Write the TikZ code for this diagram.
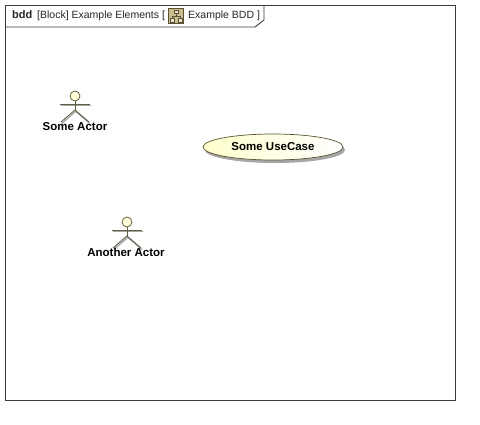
\documentclass[tikz,border=0pt]{standalone}
\usepackage{fontspec}
\setmainfont{Liberation Sans}
\usetikzlibrary{positioning,calc,shapes.geometric,shadows}
\definecolor{mdline}{HTML}{3C3C3C}
\definecolor{mdactor}{HTML}{5F5F45}
\definecolor{mdfill}{HTML}{FFFFCC}
\definecolor{mdicon}{HTML}{C9BC8E}
\definecolor{mdicond}{HTML}{5A5230}

\begin{document}
\begin{tikzpicture}[
  x=1pt, y=-1pt,
  frame/.style={draw=mdline, line width=0.9pt},
  tabtxt/.style={font=\fontsize{10.5}{12}\selectfont, text=black!85, inner sep=0pt, anchor=base west},
  lbl/.style={font=\fontsize{11.5}{13}\selectfont\bfseries, text=black, inner sep=0pt},
  limb/.style={draw=mdactor, line width=0.9pt},
  limbsh/.style={draw=black!35, line width=1.3pt, transform canvas={xshift=0.8pt, yshift=-1.4pt}},
  head/.style={circle, draw=mdicond, line width=0.7pt, fill=mdfill!70!white, minimum size=10pt, inner sep=0pt},
  usecase/.style={ellipse, draw=mdicond, line width=0.7pt, left color=mdfill, right color=white,
                  minimum width=140pt, minimum height=26pt, inner sep=0pt,
                  drop shadow={shadow xshift=2pt, shadow yshift=-3pt, fill=black, opacity=0.35}},
  iconbit/.style={draw=mdicond, line width=0.6pt, fill=mdicon!40!white, inner sep=0pt, minimum width=4pt, minimum height=3.5pt},
]
\useasboundingbox[fill=white] (0,0) rectangle (480,424);

%% ---- Marco del diagrama ----
\draw[frame] (5,5) rectangle (455,400);
\draw[frame] (5,27) -- (255,27) -- (264,20) -- (264,5);

%% ---- Cabecera ----
\node[tabtxt, font=\fontsize{11}{12}\selectfont\bfseries] (kind) at (12,18) {bdd};
\node[tabtxt] (title) at (37,18) {[Block] Example Elements [};
\node[tabtxt] (diag) at (188,18) {Example BDD ]};

%% Icono
\node[draw=mdicond, line width=0.6pt, fill=mdicon, minimum size=15pt, inner sep=0pt] (icon) at (176,16) {};
\node[iconbit] (ictop) at (176,12) {};
\node[iconbit] (icl) at (172,20.5) {};
\node[iconbit] (icr) at (180,20.5) {};
\draw[mdicond, line width=0.6pt] (ictop.south) -- ++(0,2.5) -| (icl.north);
\draw[mdicond, line width=0.6pt] (ictop.south) -- ++(0,2.5) -| (icr.north);

%% ---- Primer actor ----
\coordinate (hip1) at (75,110);
\coordinate (neck1) at (75,101);
\coordinate (armL1) at (60,104);
\coordinate (armR1) at (90,104);
\coordinate (legL1) at (61,122);
\coordinate (legR1) at (89,122);
\draw[limbsh] (armL1) -- (armR1);
\draw[limbsh] (legL1) -- (hip1) -- (legR1);
\draw[limb] (neck1) -- (hip1);
\draw[limb] (armL1) -- (armR1);
\draw[limb] (legL1) -- (hip1) -- (legR1);
\node[head] (head1) at (75,96) {};
\node[lbl] (actor1) at (75,126.5) {Some Actor};

%% ---- Segundo actor ----
\coordinate (hip2) at (127,236);
\coordinate (neck2) at (127,227);
\coordinate (armL2) at (112,230);
\coordinate (armR2) at (142,230);
\coordinate (legL2) at (113,248);
\coordinate (legR2) at (141,248);
\draw[limbsh] (armL2) -- (armR2);
\draw[limbsh] (legL2) -- (hip2) -- (legR2);
\draw[limb] (neck2) -- (hip2);
\draw[limb] (armL2) -- (armR2);
\draw[limb] (legL2) -- (hip2) -- (legR2);
\node[head] (head2) at (127,222) {};
\node[lbl] (actor2) at (126,252.5) {Another Actor};

%% ---- Caso de uso ----
\node[usecase, font=\fontsize{11.5}{13}\selectfont\bfseries] (uc) at (273,147) {Some UseCase};

\end{tikzpicture}
\end{document}
